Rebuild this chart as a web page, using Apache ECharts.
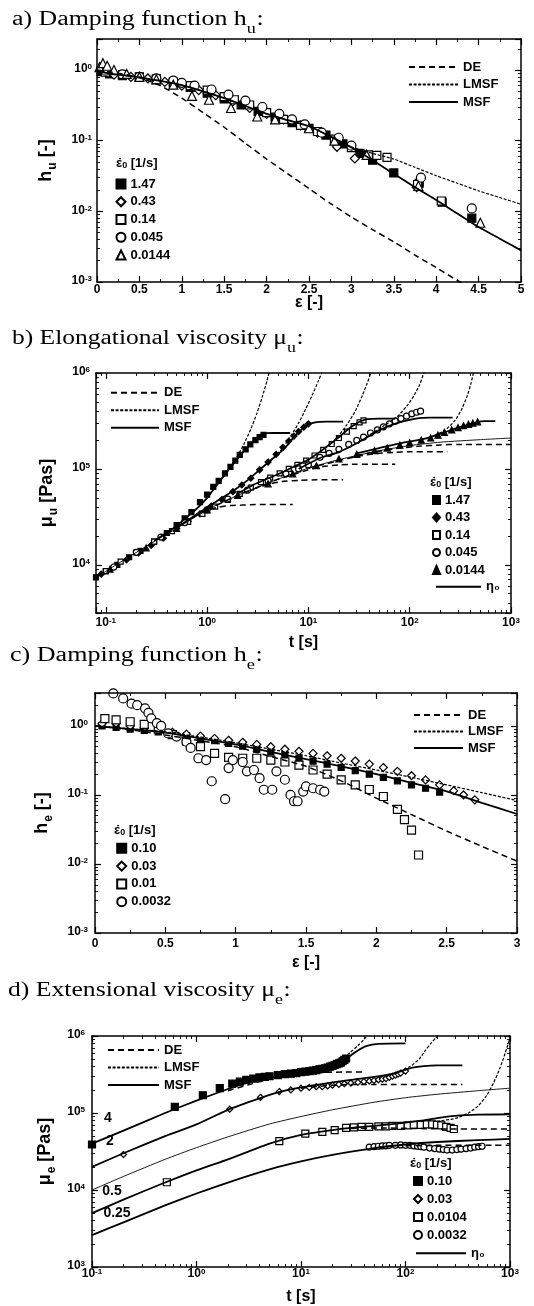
<!DOCTYPE html>
<html><head><meta charset="utf-8">
<script src="https://cdn.jsdelivr.net/npm/echarts@6/dist/echarts.min.js"></script>
<style>html,body{margin:0;padding:0;background:#fff}#c{width:534px;height:1306px}</style>
</head><body><div id="c"></div>
<script>
// ================= DATA =================
// Panel a: damping function h_u vs Hencky strain
const aCurveEps = [0,0.25,0.5,0.75,1,1.25,1.5,1.75,2,2.25,2.5,2.75,3,3.25,3.5,3.75,4,4.25,4.5,4.75,5];
const aMSF  = [0.96,0.86,0.79,0.70,0.61,0.50,0.40,0.31,0.24,0.195,0.16,0.115,0.08,0.053,0.034,0.022,0.0145,0.0093,0.006,0.0041,0.0028];
const aLMSF = [0.96,0.86,0.79,0.70,0.61,0.50,0.40,0.31,0.24,0.195,0.16,0.115,0.082,0.066,0.055,0.042,0.032,0.025,0.0195,0.0157,0.0126];
const aDEEps = [0,0.25,0.5,0.75,1,1.25,1.5,1.75,2,2.25,2.5,2.75,3,3.25,3.5,3.75,4,4.25,4.5];
const aDE    = [1.0,0.9,0.78,0.6,0.40,0.25,0.155,0.092,0.055,0.034,0.021,0.013,0.0083,0.0055,0.0037,0.0024,0.0016,0.00105,0.0007];
const a147Eps = [0.05,0.15,0.3,0.5,0.7,0.9,1.1,1.3,1.5,1.7,1.9,2.1,2.3,2.5,2.7,2.9,3.1,3.25,3.5,3.8,4.07,4.42];
const a147H   = [0.95,0.88,0.83,0.79,0.73,0.66,0.57,0.47,0.39,0.32,0.26,0.215,0.18,0.15,0.12,0.09,0.066,0.053,0.035,0.025,0.0135,0.008];
const a043Eps = [0.05,0.2,0.4,0.6,0.8,1.0,1.2,1.4,1.6,1.8,2.0,2.2,2.4,2.6,2.83,3.04,3.77];
const a043H   = [1.0,0.86,0.8,0.76,0.68,0.6,0.52,0.44,0.36,0.29,0.24,0.2,0.165,0.13,0.082,0.056,0.022];
const a014Eps = [0.1,0.3,0.5,0.7,0.9,1.1,1.3,1.5,1.62,1.8,2.0,2.2,2.4,2.6,2.8,3.0,3.2,3.3,3.42,3.78,4.06];
const a014H   = [0.93,0.86,0.8,0.75,0.68,0.6,0.52,0.42,0.38,0.32,0.25,0.2,0.165,0.135,0.105,0.08,0.063,0.062,0.058,0.024,0.014];
const a0045Eps = [0.1,0.3,0.5,0.7,0.9,1.0,1.15,1.35,1.55,1.75,1.95,2.15,2.3,2.45,2.65,2.85,3.0,3.82,4.42];
const a0045H   = [0.98,0.87,0.8,0.76,0.71,0.66,0.6,0.53,0.45,0.37,0.3,0.24,0.2,0.17,0.13,0.11,0.085,0.03,0.011];
const a00144Eps = [0.03,0.07,0.12,0.2,0.35,0.5,0.7,0.9,1.12,1.32,1.58,1.89,2.1,2.5,2.8,3.18,3.79,4.52];
const a00144H   = [1.1,1.25,1.15,1.0,0.88,0.8,0.74,0.62,0.43,0.38,0.29,0.22,0.2,0.15,0.1,0.063,0.023,0.0069];

// Panel b: elongational viscosity mu_u vs time  ([t, mu] pairs)
const bLVE = [[0.08,7.4e3],[0.15,1.12e4],[0.3,1.75e4],[0.5,2.4e4],[1,3.75e4],[2,5.3e4],[3,6.3e4],[5,7.8e4],[10,1.02e5],[20,1.25e5],[50,1.55e5],[100,1.75e5],[200,1.9e5],[500,2.02e5],[1000,2.1e5]];
const bDE147 = [[0.4,2.1e4],[0.6,2.75e4],[0.8,3.3e4],[1.0,3.7e4],[1.3,4.0e4],[1.7,4.15e4],[2.2,4.2e4],[3,4.25e4],[7,4.25e4]];
const bDE043 = [[1,3.75e4],[1.5,4.6e4],[2,5.3e4],[3,6.3e4],[4,6.9e4],[5.5,7.4e4],[8,7.6e4],[12,7.7e4],[22,7.7e4]];
const bDE014 = [[3,6.3e4],[5,7.8e4],[7,8.7e4],[10,9.8e4],[14,1.06e5],[20,1.1e5],[30,1.12e5],[45,1.12e5],[72,1.12e5]];
const bDE0045 = [[10,1.02e5],[15,1.13e5],[20,1.22e5],[30,1.35e5],[45,1.44e5],[70,1.49e5],[100,1.51e5],[150,1.51e5],[235,1.51e5]];
const bDE00144 = [[30,1.38e5],[50,1.53e5],[80,1.65e5],[120,1.72e5],[200,1.78e5],[300,1.8e5],[500,1.8e5],[1000,1.8e5]];
const bMSF147 = [[0.3,1.78e4],[0.45,2.35e4],[0.6,3.0e4],[0.8,3.9e4],[1.0,5.0e4],[1.25,6.8e4],[1.5,8.7e4],[1.9,1.2e5],[2.2,1.45e5],[2.67,1.8e5],[3.0,2.05e5],[3.4,2.27e5],[3.9,2.36e5],[4.5,2.37e5],[6.6,2.37e5]];
const bLMSF147 = [[1.0,5.0e4],[1.5,8.9e4],[1.9,1.25e5],[2.3,1.8e5],[2.7,2.6e5],[3.1,3.8e5],[3.5,5.6e5],[3.9,8.3e5],[4.3,1.25e6]];
const bMSF043 = [[0.5,2.45e4],[0.8,3.4e4],[1.2,4.5e4],[1.8,5.9e4],[2.5,7.6e4],[3.3,9.8e4],[4.2,1.22e5],[5.3,1.5e5],[6.3,1.8e5],[7.2,2.15e5],[8.5,2.55e5],[10,2.9e5],[12,3.08e5],[15,3.12e5],[22,3.12e5]];
const bLMSF043 = [[4.2,1.22e5],[5.3,1.55e5],[6.5,2.1e5],[8,3.0e5],[9.5,4.3e5],[11,6.0e5],[12.5,8.2e5],[14.5,1.2e6]];
const bMSF014 = [[2,5.5e4],[3,7.0e4],[5,8.8e4],[7,1.04e5],[10,1.25e5],[14,1.6e5],[19,2.05e5],[26,2.7e5],[32,3.1e5],[38,3.3e5],[50,3.35e5],[72,3.35e5]];
const bLMSF014 = [[14,1.6e5],[19,2.1e5],[24,2.9e5],[29,4.0e5],[34,5.8e5],[38,7.8e5],[42,1.05e6]];
const bMSF0045 = [[8,1.0e5],[13,1.3e5],[20,1.5e5],[30,1.85e5],[41,2.25e5],[55,2.65e5],[75,3.0e5],[100,3.25e5],[130,3.4e5],[160,3.42e5],[265,3.42e5]];
const bLMSF0045 = [[41,2.3e5],[55,2.8e5],[75,3.5e5],[95,4.6e5],[110,5.8e5],[125,7.5e5],[140,1.05e6]];
const bMSF00144 = [[30,1.45e5],[50,1.65e5],[80,1.85e5],[120,2.0e5],[161,2.15e5],[220,2.4e5],[300,2.7e5],[400,2.95e5],[470,3.1e5],[550,3.15e5],[700,3.15e5]];
const bLMSF00144 = [[161,2.15e5],[220,2.5e5],[280,3.2e5],[330,4.3e5],[370,5.8e5],[400,7.6e5],[430,1.05e6]];
const b147T = [0.08,0.1,0.13,0.17,0.22,0.3,0.4,0.5,0.6,0.7,0.85,1.0,1.15,1.3,1.5,1.7,1.9,2.1,2.4,2.67,3.0,3.3,3.6];
const b147M = [7.4e3,8.6e3,1.0e4,1.2e4,1.4e4,1.75e4,2.15e4,2.6e4,3.05e4,3.55e4,4.5e4,5.4e4,6.5e4,7.5e4,9.0e4,1.05e5,1.22e5,1.4e5,1.6e5,1.8e5,2.0e5,2.15e5,2.27e5];
const b043T = [0.09,0.12,0.16,0.21,0.28,0.37,0.5,0.65,0.85,1.1,1.4,1.8,2.2,2.7,3.3,4.0,4.8,5.6,6.4,7.2,8.0,9.0,10];
const b043M = [8.0e3,9.5e3,1.13e4,1.33e4,1.6e4,1.9e4,2.4e4,2.85e4,3.4e4,4.1e4,4.8e4,5.8e4,6.8e4,8.0e4,9.8e4,1.18e5,1.42e5,1.68e5,1.95e5,2.2e5,2.45e5,2.72e5,2.95e5];
const b014T = [0.1,0.14,0.2,0.3,0.45,0.65,0.9,1.2,1.6,2.1,2.7,3.4,4.2,5.2,6.4,7.8,9.5,11.5,14,17,20,24,28,32,35];
const b014M = [8.6e3,1.08e4,1.35e4,1.75e4,2.25e4,2.8e4,3.4e4,4.05e4,4.75e4,5.5e4,6.4e4,7.3e4,8.1e4,9.0e4,1.0e5,1.1e5,1.22e5,1.38e5,1.58e5,1.82e5,2.1e5,2.45e5,2.8e5,3.05e5,3.2e5];
const b0045T = [0.12,0.2,0.35,0.6,1,1.6,2.5,4,6,8,10,13,16,20,25,30,35,41,48,55,63,72,82,93,105,117,128];
const b0045M = [9.5e3,1.35e4,1.95e4,2.75e4,3.75e4,4.85e4,6.0e4,7.5e4,8.9e4,1.0e5,1.1e5,1.32e5,1.45e5,1.6e5,1.8e5,1.98e5,2.15e5,2.37e5,2.55e5,2.75e5,2.95e5,3.15e5,3.35e5,3.55e5,3.75e5,3.9e5,4.0e5];
const b00144T = [0.11,0.25,0.5,1,2,4,7,12,20,30,45,60,80,100,130,161,190,220,260,300,340,380,420,468];
const b00144M = [9.0e3,1.5e4,2.4e4,3.75e4,5.3e4,7.0e4,8.9e4,1.08e5,1.27e5,1.42e5,1.55e5,1.65e5,1.77e5,1.87e5,2.0e5,2.1e5,2.25e5,2.4e5,2.55e5,2.7e5,2.82e5,2.92e5,3.0e5,3.1e5];

// Panel c: damping function h_e vs strain
const cCurveEps = [0,0.25,0.5,0.75,1,1.25,1.5,1.75,2,2.25,2.5,2.75,3];
const cMSF  = [1.0,0.9,0.8,0.66,0.54,0.42,0.33,0.26,0.2,0.15,0.113,0.077,0.053];
const cLMSF = [1.0,0.91,0.82,0.69,0.57,0.46,0.37,0.29,0.23,0.18,0.14,0.108,0.083];
const cDE   = [1.0,0.88,0.74,0.61,0.5,0.36,0.26,0.16,0.09,0.052,0.03,0.018,0.011];
const c010Eps = [0.05,0.15,0.25,0.35,0.45,0.55,0.65,0.75,0.85,0.95,1.05,1.15,1.25,1.35,1.45,1.55,1.65,1.75,1.85,1.95,2.05,2.15,2.25,2.35,2.45];
const c010H   = [1.0,0.95,0.9,0.86,0.82,0.77,0.72,0.66,0.61,0.56,0.51,0.46,0.42,0.38,0.34,0.31,0.28,0.25,0.225,0.2,0.18,0.16,0.14,0.125,0.11];
const c003Eps = [0.05,0.15,0.25,0.35,0.45,0.55,0.65,0.75,0.85,0.95,1.05,1.15,1.25,1.35,1.45,1.55,1.65,1.75,1.85,1.95,2.05,2.15,2.25,2.35,2.45,2.55,2.62,2.7];
const c003H   = [1.08,1.1,1.0,0.93,0.87,0.81,0.76,0.71,0.66,0.62,0.58,0.54,0.5,0.46,0.43,0.4,0.37,0.34,0.31,0.28,0.25,0.22,0.19,0.165,0.14,0.115,0.1,0.085];
const c001Eps = [0.07,0.15,0.25,0.35,0.45,0.55,0.65,0.75,0.85,0.95,1.05,1.15,1.25,1.35,1.45,1.55,1.65,1.75,1.85,1.95,2.05,2.15,2.2,2.25,2.3];
const c001H   = [1.28,1.22,1.15,1.05,0.9,0.75,0.6,0.5,0.4,0.35,0.34,0.34,0.32,0.3,0.27,0.23,0.2,0.165,0.14,0.12,0.095,0.062,0.044,0.031,0.0135];
const c0032 = [[0.13,2.96],[0.2,2.5],[0.26,2.1],[0.3,2.0],[0.356,1.8],[0.38,1.55],[0.4,1.29],[0.44,1.1],[0.47,1.0],[0.52,0.78],[0.58,0.7],[0.65,0.59],[0.68,0.48],[0.735,0.34],[0.79,0.32],[0.83,0.158],[0.925,0.087],[0.95,0.245],[0.98,0.32],[1.05,0.3],[1.08,0.22],[1.13,0.23],[1.17,0.175],[1.2,0.119],[1.26,0.119],[1.29,0.22],[1.35,0.166],[1.39,0.1],[1.415,0.081],[1.44,0.081],[1.48,0.112],[1.5,0.133],[1.55,0.125],[1.6,0.119],[1.63,0.112]];

// Panel d: extensional viscosity mu_e vs time (curves shifted by factors 4, 2, 0.5, 0.25)
const dLVE = [[0.1,1.0e4],[0.2,1.5e4],[0.5,2.5e4],[1,3.55e4],[2,4.9e4],[5,7.2e4],[10,9.0e4],[20,1.1e5],[50,1.38e5],[100,1.58e5],[200,1.75e5],[500,1.95e5],[1000,2.1e5]];
const dMSF4 = [[0.1,4.0e4],[0.2,5.9e4],[0.5,1.0e5],[1,1.45e5],[2,2.05e5],[3,2.45e5],[5,2.9e5],[8,3.25e5],[12,3.55e5],[18,4.05e5],[25,4.8e5],[30,5.6e5],[35,6.5e5],[42,7.4e5],[55,7.9e5],[100,8.0e5]];
const dDE4 = [[2,1.95e5],[4,2.55e5],[6,2.9e5],[10,3.2e5],[15,3.35e5],[25,3.4e5],[40,3.4e5]];
const dLMSF4 = [[12,3.6e5],[18,4.2e5],[25,5.2e5],[30,6.2e5],[35,7.5e5],[40,9.0e5],[45,1.1e6]];
const dMSF2 = [[0.1,2.0e4],[0.2,3.0e4],[0.5,5.0e4],[1,7.1e4],[2,1.1e5],[4,1.55e5],[6,1.85e5],[10,2.15e5],[20,2.5e5],[30,2.7e5],[50,2.95e5],[80,3.3e5],[110,3.8e5],[150,4.05e5],[200,4.15e5],[350,4.15e5]];
const dDE2 = [[10,2.1e5],[20,2.3e5],[30,2.35e5],[50,2.35e5],[80,2.35e5],[120,2.35e5],[200,2.35e5],[350,2.35e5]];
const dLMSF2 = [[80,3.3e5],[110,4.0e5],[135,5.0e5],[155,6.5e5],[175,8.0e5],[195,9.5e5],[215,1.1e6]];
const dMSF05 = [[0.1,5.0e3],[0.2,7.5e3],[0.5,1.25e4],[1,1.8e4],[2,2.5e4],[5,4.0e4],[10,5.2e4],[20,6.0e4],[30,6.4e4],[50,6.8e4],[100,7.5e4],[150,8.0e4],[200,8.6e4],[300,9.2e4],[500,9.5e4],[1000,9.6e4]];
const dDE05 = [[30,6.3e4],[60,6.4e4],[120,6.3e4],[250,6.2e4],[500,6.2e4],[1000,6.2e4]];
const dLMSF05 = [[200,7.8e4],[300,8.5e4],[400,1.0e5],[500,1.25e5],[600,1.7e5],[700,2.5e5],[800,3.8e5],[900,6.0e5],[1000,9.5e5]];
const dMSF025 = [[0.1,2.6e3],[0.2,3.8e3],[0.5,6.3e3],[1,9.0e3],[2,1.25e4],[5,1.85e4],[10,2.35e4],[20,2.85e4],[50,3.5e4],[100,3.9e4],[200,4.2e4],[500,4.45e4],[1000,4.6e4]];
const dDE025 = [[100,3.75e4],[200,3.8e4],[400,3.8e4],[700,3.8e4],[1000,3.8e4]];
const d010T = [0.1,0.62,1.15,1.67,2.2,2.6,3.0,3.5,4.0,4.5,5,6,7,8,9,10,11,12,13,14,15,16,17,18,19,20,21,22,23,24,25,26,27];
const d010M = [3.9e4,1.2e5,1.7e5,2.1e5,2.4e5,2.55e5,2.7e5,2.8e5,2.9e5,2.95e5,3.0e5,3.1e5,3.2e5,3.25e5,3.3e5,3.4e5,3.45e5,3.5e5,3.55e5,3.6e5,3.7e5,3.75e5,3.8e5,3.9e5,4.0e5,4.1e5,4.2e5,4.3e5,4.4e5,4.5e5,4.7e5,4.9e5,5.1e5];
const d003T = [0.2,2.08,4.1,6.2,8,10,12,14,16,18,20,23,26,30,35,40,45,50,55,60,65,70,75,80,85,90,100];
const d003M = [2.9e4,1.12e5,1.6e5,1.9e5,2.0e5,2.1e5,2.15e5,2.2e5,2.2e5,2.25e5,2.3e5,2.35e5,2.4e5,2.45e5,2.5e5,2.55e5,2.6e5,2.65e5,2.7e5,2.75e5,2.8e5,2.9e5,3.0e5,3.1e5,3.2e5,3.3e5,3.5e5];
const d0104T = [0.52,6.2,11,16,21,27,32,38,45,55,65,75,90,105,120,140,160,180,200,220,245,270,290];
const d0104M = [1.26e4,4.3e4,5.4e4,5.7e4,6.0e4,6.4e4,6.5e4,6.6e4,6.6e4,6.7e4,6.7e4,6.8e4,6.8e4,6.9e4,7.0e4,7.0e4,7.1e4,7.1e4,7.0e4,6.9e4,6.6e4,6.4e4,6.2e4];
const d0032T = [45,50,55,60,65,70,80,90,100,110,120,130,140,150,170,190,210,230,250,280,310,340,380,420,460,500,540];
const d0032M = [3.6e4,3.65e4,3.7e4,3.75e4,3.75e4,3.8e4,3.8e4,3.85e4,3.8e4,3.8e4,3.75e4,3.7e4,3.65e4,3.6e4,3.5e4,3.45e4,3.4e4,3.35e4,3.3e4,3.3e4,3.35e4,3.4e4,3.45e4,3.5e4,3.6e4,3.65e4,3.7e4];
const dShiftLabels = ['4','2','0.5','0.25'];

// ================= CHART =================
const FONT = 'Liberation Sans', SERIF = 'Liberation Serif';
const zip = (xs, ys) => xs.map((x, i) => [x, ys[i]]);
const chart = echarts.init(document.getElementById('c'), null, {renderer: 'canvas'});

const grids = [
  {left: 97, top: 39, width: 424, height: 243},
  {left: 96, top: 373, width: 415, height: 240},
  {left: 95, top: 693, width: 422, height: 240},
  {left: 92, top: 1036, width: 418, height: 231}
];

const SUPRICH = {
  b: {fontFamily: FONT, fontWeight: 'bold', fontSize: 12, color: '#000', lineHeight: 14, verticalAlign: 'top'},
  s: {fontFamily: FONT, fontWeight: 'bold', fontSize: 8, color: '#000', lineHeight: 8, verticalAlign: 'top'}
};
const YNAMERICH = {
  m: {fontFamily: FONT, fontWeight: 'bold', fontSize: 18, color: '#000', lineHeight: 20, verticalAlign: 'top'},
  s: {fontFamily: FONT, fontWeight: 'bold', fontSize: 12, color: '#000', lineHeight: 12, verticalAlign: 'top', padding: [10, 0, 0, 1]}
};
const XNAMERICH = {
  m: {fontFamily: FONT, fontWeight: 'bold', fontSize: 16, color: '#000', lineHeight: 18}
};
function logFmt(v) {
  const e = Math.log10(v), r = Math.round(e);
  if (Math.abs(e - r) > 1e-3) return '';
  return '{b|10}{s|' + r + '}';
}
function mkAxis(o) {
  const ax = {
    type: o.type, gridIndex: o.g, position: o.pos, min: o.min, max: o.max,
    axisLine: {show: true, onZero: false, lineStyle: {color: '#000', width: 1.5}},
    axisTick: {show: true, inside: true, length: 6, lineStyle: {color: '#000', width: 1.2}},
    minorTick: {show: true, splitNumber: o.minor, length: 3, lineStyle: {color: '#000', width: 0.9}},
    splitLine: {show: false}, minorSplitLine: {show: false},
    axisLabel: {show: !!o.label, margin: o.margin || 0, color: '#000', fontFamily: FONT, fontWeight: 'bold', fontSize: 12, rich: SUPRICH},
    silent: true, z: 6
  };
  if (o.fmt) ax.axisLabel.formatter = o.fmt;
  if (o.type === 'value') ax.interval = o.interval;
  if (o.type === 'log') ax.logBase = 10;
  if (o.name) {
    ax.name = o.name; ax.nameLocation = 'middle'; ax.nameGap = o.nameGap;
    ax.nameRotate = o.rot || 0; ax.nameMoveOverlap = false;
    ax.nameTextStyle = {fontFamily: FONT, fontWeight: 'bold', fontSize: 16, color: '#000', rich: o.rich};
  }
  return ax;
}

const xAxis = [
  mkAxis({type: 'value', g: 0, pos: 'bottom', min: 0, max: 5, interval: 0.5, minor: 2, label: true, margin: 2, name: '{m|ε [-]}', nameGap: 12, rich: XNAMERICH}),
  mkAxis({type: 'value', g: 0, pos: 'top', min: 0, max: 5, interval: 0.5, minor: 2}),
  mkAxis({type: 'log', g: 1, pos: 'bottom', min: 0.08, max: 1000, minor: 9, label: true, fmt: logFmt, margin: 4, name: '{m|t [s]}', nameGap: 21, rich: XNAMERICH}),
  mkAxis({type: 'log', g: 1, pos: 'top', min: 0.08, max: 1000, minor: 9}),
  mkAxis({type: 'value', g: 2, pos: 'bottom', min: 0, max: 3, interval: 0.5, minor: 2, label: true, margin: 5, name: '{m|ε [-]}', nameGap: 21, rich: XNAMERICH}),
  mkAxis({type: 'value', g: 2, pos: 'top', min: 0, max: 3, interval: 0.5, minor: 2}),
  mkAxis({type: 'log', g: 3, pos: 'bottom', min: 0.1, max: 1000, minor: 9, label: true, fmt: logFmt, margin: 1, name: '{m|t [s]}', nameGap: 21, rich: XNAMERICH}),
  mkAxis({type: 'log', g: 3, pos: 'top', min: 0.1, max: 1000, minor: 9})
];
const yAxis = [
  mkAxis({type: 'log', g: 0, pos: 'left', min: 0.001, max: 2.75, minor: 9, label: true, fmt: logFmt, margin: 5, name: '{m|h}{s|u}{m| [-]}', nameGap: 40, rot: 90, rich: YNAMERICH}),
  mkAxis({type: 'log', g: 0, pos: 'right', min: 0.001, max: 2.75, minor: 9}),
  mkAxis({type: 'log', g: 1, pos: 'left', min: 3150, max: 1e6, minor: 9, label: true, fmt: logFmt, margin: 6, name: '{m|μ}{s|u}{m| [Pas]}', nameGap: 38, rot: 90, rich: YNAMERICH}),
  mkAxis({type: 'log', g: 1, pos: 'right', min: 3150, max: 1e6, minor: 9}),
  mkAxis({type: 'log', g: 2, pos: 'left', min: 0.001, max: 3, minor: 9, label: true, fmt: logFmt, margin: 7, name: '{m|h}{s|e}{m| [-]}', nameGap: 42, rot: 90, rich: YNAMERICH}),
  mkAxis({type: 'log', g: 2, pos: 'right', min: 0.001, max: 3, minor: 9}),
  mkAxis({type: 'log', g: 3, pos: 'left', min: 1000, max: 1e6, minor: 9, label: true, fmt: logFmt, margin: 7, name: '{m|μ}{s|e}{m| [Pas]}', nameGap: 36, rot: 90, rich: YNAMERICH}),
  mkAxis({type: 'log', g: 3, pos: 'right', min: 1000, max: 1e6, minor: 9})
];

const LS = {
  DE: {type: [6, 4], width: 1.5},
  LMSF: {type: [3, 1.6], width: 1.2},
  MSF: {type: 'solid', width: 1.8},
  ETA: {type: 'solid', width: 0.9}
};
function line(g, name, data, kind) {
  return {type: 'line', name: name, xAxisIndex: 2 * g, yAxisIndex: 2 * g, data: data,
    symbol: 'none', showSymbol: false, smooth: 0.2, clip: true,
    lineStyle: Object.assign({color: '#000'}, LS[kind]), itemStyle: {color: '#000'},
    z: 4, silent: true, animation: false};
}
function pts(g, name, data, symbol, size, filled) {
  return {type: 'scatter', name: name, xAxisIndex: 2 * g, yAxisIndex: 2 * g, data: data,
    symbol: symbol, symbolSize: size, clip: true,
    itemStyle: {color: filled ? '#000' : '#fff', borderColor: '#000', borderWidth: 1.2, opacity: 1},
    z: 3, silent: true, animation: false};
}
// labels 4 / 2 / 0.5 / 0.25 at the start of the shifted MSF curves in panel d
const dLabelOffsets = [[16, -13], [18, -14], [20, -10], [25, -10]];
const dLabelSeries = {
  type: 'scatter', name: 'd|labels', xAxisIndex: 6, yAxisIndex: 6, symbol: 'circle', symbolSize: 0.01, clip: false,
  itemStyle: {color: '#000', opacity: 1}, silent: true, animation: false, z: 7,
  data: [dMSF4[0], dMSF2[0], dMSF05[0], dMSF025[0]].map((p, i) => ({value: p,
    label: {show: true, formatter: dShiftLabels[i], position: 'top', offset: dLabelOffsets[i], opacity: 1,
      textBorderWidth: 0, fontFamily: FONT, fontWeight: 'bold', fontSize: 14, color: '#000'}}))
};

const series = [
  // ---- a ----
  pts(0, 'a|1.47', zip(a147Eps, a147H), 'rect', 8, true),
  pts(0, 'a|0.43', zip(a043Eps, a043H), 'diamond', 9, false),
  pts(0, 'a|0.14', zip(a014Eps, a014H), 'rect', 8, false),
  pts(0, 'a|0.045', zip(a0045Eps, a0045H), 'circle', 9, false),
  pts(0, 'a|0.0144', zip(a00144Eps, a00144H), 'triangle', 9, false),
  line(0, 'a|DE', zip(aDEEps, aDE), 'DE'),
  line(0, 'a|LMSF', zip(aCurveEps, aLMSF), 'LMSF'),
  line(0, 'a|MSF', zip(aCurveEps, aMSF), 'MSF'),
  // ---- b ----
  pts(1, 'b|1.47', zip(b147T, b147M), 'rect', 5, true),
  pts(1, 'b|0.43', zip(b043T, b043M), 'diamond', 6, true),
  pts(1, 'b|0.14', zip(b014T, b014M), 'rect', 5, false),
  pts(1, 'b|0.045', zip(b0045T, b0045M), 'circle', 6, false),
  pts(1, 'b|0.0144', zip(b00144T, b00144M), 'triangle', 6, true),
  line(1, 'b|η₀', bLVE, 'ETA'),
  line(1, 'b|DE', bDE147, 'DE'), line(1, 'b|DE', bDE043, 'DE'), line(1, 'b|DE', bDE014, 'DE'),
  line(1, 'b|DE', bDE0045, 'DE'), line(1, 'b|DE', bDE00144, 'DE'),
  line(1, 'b|LMSF', bLMSF147, 'LMSF'), line(1, 'b|LMSF', bLMSF043, 'LMSF'), line(1, 'b|LMSF', bLMSF014, 'LMSF'),
  line(1, 'b|LMSF', bLMSF0045, 'LMSF'), line(1, 'b|LMSF', bLMSF00144, 'LMSF'),
  line(1, 'b|MSF', bMSF147, 'MSF'), line(1, 'b|MSF', bMSF043, 'MSF'), line(1, 'b|MSF', bMSF014, 'MSF'),
  line(1, 'b|MSF', bMSF0045, 'MSF'), line(1, 'b|MSF', bMSF00144, 'MSF'),
  // ---- c ----
  pts(2, 'c|0.10', zip(c010Eps, c010H), 'rect', 6, true),
  pts(2, 'c|0.03', zip(c003Eps, c003H), 'diamond', 8, false),
  pts(2, 'c|0.01', zip(c001Eps, c001H), 'rect', 8, false),
  pts(2, 'c|0.0032', c0032, 'circle', 9, false),
  line(2, 'c|DE', zip(cCurveEps, cDE), 'DE'),
  line(2, 'c|LMSF', zip(cCurveEps, cLMSF), 'LMSF'),
  line(2, 'c|MSF', zip(cCurveEps, cMSF), 'MSF'),
  // ---- d ----
  pts(3, 'd|0.10', zip(d010T, d010M), 'rect', 7, true),
  pts(3, 'd|0.03', zip(d003T, d003M), 'diamond', 6, false),
  pts(3, 'd|0.0104', zip(d0104T, d0104M), 'rect', 7, false),
  pts(3, 'd|0.0032', zip(d0032T, d0032M), 'circle', 6, false),
  line(3, 'd|η₀', dLVE, 'ETA'),
  line(3, 'd|DE', dDE4, 'DE'), line(3, 'd|DE', dDE2, 'DE'), line(3, 'd|DE', dDE05, 'DE'), line(3, 'd|DE', dDE025, 'DE'),
  line(3, 'd|LMSF', dLMSF4, 'LMSF'), line(3, 'd|LMSF', dLMSF2, 'LMSF'), line(3, 'd|LMSF', dLMSF05, 'LMSF'),
  line(3, 'd|MSF', dMSF4, 'MSF'), line(3, 'd|MSF', dMSF2, 'MSF'),
  line(3, 'd|MSF', dMSF05, 'MSF'), line(3, 'd|MSF', dMSF025, 'MSF'),
  dLabelSeries
];

const legendText = {fontFamily: FONT, fontWeight: 'bold', fontSize: 13, lineHeight: 13, color: '#000'};
function lg(o) {
  return Object.assign({orient: 'vertical', padding: 0, selectedMode: false, textStyle: legendText,
    formatter: n => n.split('|')[1], itemGap: 4.5, itemHeight: 10, itemWidth: 49}, o);
}
const legend = [
  lg({data: ['a|DE', 'a|LMSF', 'a|MSF'], left: 408, top: 60.5, itemStyle: {opacity: 0}}),
  lg({data: ['a|1.47', 'a|0.43', 'a|0.14', 'a|0.045', 'a|0.0144'], left: 115.5, top: 177.5, itemWidth: 9, itemHeight: 9, itemGap: 4.75}),
  lg({data: ['b|DE', 'b|LMSF', 'b|MSF'], left: 110, top: 386.2, itemWidth: 48, itemStyle: {opacity: 0}}),
  lg({data: ['b|1.47', 'b|0.43', 'b|0.14', 'b|0.045', 'b|0.0144'], left: 432, top: 493.5, itemWidth: 7, itemHeight: 8, itemGap: 4.5}),
  lg({data: ['b|η₀'], left: 435, top: 580.2, itemWidth: 45, itemStyle: {opacity: 0}}),
  lg({data: ['c|DE', 'c|LMSF', 'c|MSF'], left: 413, top: 708.5, itemGap: 3.5, itemStyle: {opacity: 0}}),
  lg({data: ['c|0.10', 'c|0.03', 'c|0.01', 'c|0.0032'], left: 116.2, top: 841.8, itemWidth: 9, itemHeight: 9, itemGap: 4.8}),
  lg({data: ['d|DE', 'd|LMSF', 'd|MSF'], left: 107, top: 1043.5, itemWidth: 51, itemStyle: {opacity: 0}}),
  lg({data: ['d|0.10', 'd|0.03', 'd|0.0104', 'd|0.0032'], left: 413, top: 1174.5, itemWidth: 8, itemHeight: 8, itemGap: 5}),
  lg({data: ['d|η₀'], left: 415, top: 1246.8, itemWidth: 50, itemStyle: {opacity: 0}})
];

// ---- text graphics (panel titles, legend headers) ----
const mctx = document.createElement('canvas').getContext('2d');
function tw(text, font) { mctx.font = font; return mctx.measureText(text).width; }
function titleGroup(x, base, main, sub, target) {
  const w1 = tw(main, '20px "Liberation Serif"'), w2 = tw(sub, '14px "Liberation Serif"'), w3 = tw(':', '20px "Liberation Serif"');
  const sx = target / (w1 + w2 + w3);
  const st = (t, fs) => ({text: t, fontFamily: SERIF, fontSize: fs, fill: '#000', align: 'left', verticalAlign: 'middle'});
  return {type: 'group', x: x, y: base, scaleX: sx, silent: true, children: [
    {type: 'text', x: 0, y: -6, style: st(main, 20)},
    {type: 'text', x: w1, y: 3.8, style: st(sub, 14)},
    {type: 'text', x: w1 + w2 + 0.5, y: -6, style: st(':', 20)}
  ]};
}
function rateHeader(x, cy) {
  const f1 = 'bold 13px "Liberation Sans"', f2 = 'bold 9px "Liberation Sans"';
  const w1 = tw('ε', f1), w2 = tw('0', f2), wd = tw('˙', f1);
  const st = (t, fs) => ({text: t, fontFamily: FONT, fontWeight: 'bold', fontSize: fs, fill: '#000', align: 'left', verticalAlign: 'middle'});
  return {type: 'group', x: x, y: cy, silent: true, children: [
    {type: 'text', x: 0, y: 0, style: st('ε', 13)},
    {type: 'text', x: (w1 - wd) / 2 + 1, y: 0, style: st('˙', 13)},
    {type: 'text', x: w1, y: 3, style: st('0', 9)},
    {type: 'text', x: w1 + w2, y: 0, style: st(' [1/s]', 13)}
  ]};
}
const graphic = [
  titleGroup(12, 26, 'a) Damping function h', 'u', 251),
  titleGroup(12, 345, 'b) Elongational viscosity μ', 'u', 291),
  titleGroup(10, 661.7, 'c) Damping function h', 'e', 252),
  titleGroup(8, 996.7, 'd) Extensional viscosity μ', 'e', 282),
  rateHeader(116, 163), rateHeader(430, 482), rateHeader(114, 830), rateHeader(410, 1163)
];

chart.setOption({
  backgroundColor: '#fff',
  animation: false,
  textStyle: {fontFamily: FONT},
  grid: grids.map(g => ({left: g.left, top: g.top, width: g.width, height: g.height, containLabel: false, outerBoundsMode: 'none', show: false})),
  xAxis: xAxis, yAxis: yAxis, series: series, legend: legend, graphic: graphic
});
</script></body></html>
